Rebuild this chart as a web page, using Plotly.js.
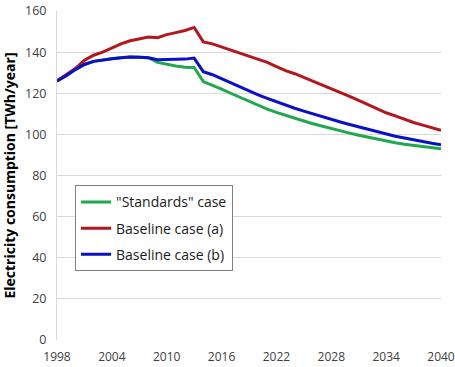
<!DOCTYPE html>
<html>
<head>
<meta charset="utf-8">
<script src="https://cdn.plot.ly/plotly-3.0.1.min.js"></script>
<style>html,body{margin:0;padding:0;background:#fff;}#chart{width:455px;height:367px;}</style>
</head>
<body>
<div id="chart"></div>
<script>
const years = [1998,1999,2000,2001,2002,2003,2004,2005,2006,2007,2008,2009,2010,2011,2012,2013,2014,2015,2016,2017,2018,2019,2020,2021,2022,2023,2024,2025,2026,2027,2028,2029,2030,2031,2032,2033,2034,2035,2036,2037,2038,2039,2040];
const standardsCase = [126,128.5,131.5,134,135.5,136.3,136.8,137.3,137.6,137.5,137.3,135,134,133.3,132.7,132.5,125.7,124,122,120,118,116,114,112.3,110.7,109.2,107.8,106.5,105.2,104,102.8,101.7,100.6,99.6,98.6,97.6,96.7,95.9,95.2,94.6,94,93.5,93];
const baselineA = [126,129,132,136,138.5,140,142,144,145.5,146.5,147.3,147,148.5,149.5,150.5,152,145,144,142.5,141,139.5,138,136.5,135,133,131,129.5,127.7,126,124.2,122.4,120.5,118.5,116.5,114.5,112.5,110.5,109,107.3,105.8,104.5,103.2,102];
const baselineB = [126,128.5,131.5,134,135.5,136.3,136.8,137.3,137.6,137.5,137.3,136.3,136.4,136.5,136.6,137.1,130.5,129,127,125,123,121,119.2,117.5,115.8,114.2,112.7,111.3,109.9,108.6,107.3,106,104.8,103.6,102.4,101.2,100.1,99.1,98.2,97.3,96.5,95.7,95];
const seriesNames = ['"Standards" case','Baseline case (a)','Baseline case (b)'];
const yTicks = [0,20,40,60,80,100,120,140,160];
const xTicks = [1998,2004,2010,2016,2022,2028,2034,2040];

const colors = ['#20a84c','#b5161b','#0a10c8'];
const data = [standardsCase, baselineA, baselineB].map((ys,i)=>({
  x: years, y: ys, type:'scatter', mode:'lines', name: seriesNames[i],
  legendgroup: 'g'+i,
  line:{color:colors[i], width:3}
}));

const layout = {
  width:455, height:367,
  margin:{l:57, r:14, t:11, b:27},
  paper_bgcolor:'#fff', plot_bgcolor:'#fff',
  font:{family:'"Open Sans", "Noto Sans", sans-serif', size:12, color:'#404040'},
  showlegend:true,
  legend:{x:0.047, y:0.47, xanchor:'left', yanchor:'top', bordercolor:'#808080', borderwidth:1,
          bgcolor:'#fff', font:{size:14, color:'#1a1a1a'}, tracegroupgap:5, traceorder:'grouped'},
  xaxis:{range:[1998,2040], tickvals:xTicks, ticktext:xTicks.map(String), showgrid:false,
         zeroline:false, showline:false, ticks:'outside', ticklen:6, tickcolor:'rgba(0,0,0,0)',
         tickfont:{size:12, color:'#404040'}},
  yaxis:{range:[0,160], tickvals:yTicks, showgrid:true, gridcolor:'#d9d9d9', gridwidth:1,
         zeroline:false, showline:true, linecolor:'#d9d9d9',
         ticks:'outside', ticklen:7, tickcolor:'rgba(0,0,0,0)',
         tickfont:{size:12.5, color:'#404040'},
         title:{text:'Electricity consumption [TWh/year]', font:{size:14, color:'#000', weight:'bold'}, standoff:8}}
};
Plotly.newPlot('chart', data, layout, {staticPlot:true, displayModeBar:false});
</script>
</body>
</html>
